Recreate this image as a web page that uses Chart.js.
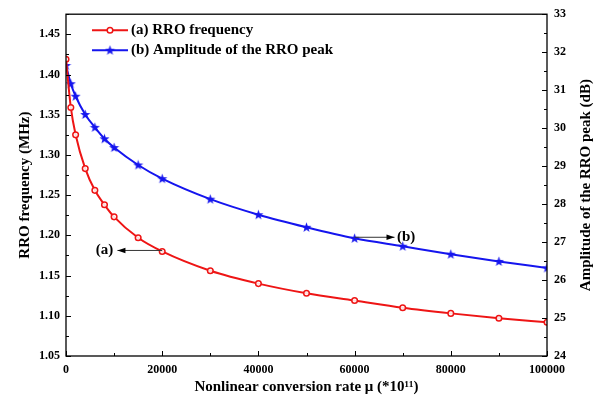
<!DOCTYPE html>
<html>
<head>
<meta charset="utf-8">
<script src="https://cdn.jsdelivr.net/npm/chart.js@4.4.0/dist/chart.umd.min.js"></script>
<style>
body{margin:0;background:#fff}
#wrap{width:600px;height:396px}
</style>
</head>
<body>
<div id="wrap"><canvas id="myChart" width="600" height="396"></canvas></div>
<script>
var mu=[0,1000,2000,4000,6000,8000,10000,15000,20000,30000,40000,50000,60000,70000,80000,90000,100000]
var rroFreq=[1.419,1.359,1.325,1.283,1.256,1.238,1.223,1.197,1.180,1.156,1.140,1.128,1.119,1.110,1.103,1.097,1.092]
var rroAmp=[31.65,31.17,30.84,30.36,30.02,29.72,29.49,29.03,28.67,28.13,27.72,27.39,27.10,26.89,26.68,26.49,26.32]
var seriesNames=["(a) RRO frequency","(b) Amplitude of the RRO peak"]
var rightTitle="Amplitude of the RRO peak (dB)"

var red="#ee1515", blue="#1515ee"
var serif='"Liberation Serif","Times New Roman",serif'
Chart.defaults.font.family=serif
Chart.defaults.font.weight='bold'
Chart.defaults.color='#000'

function starImage(color){
  var c=document.createElement('canvas')
  c.width=11; c.height=11
  var g=c.getContext('2d')
  g.fillStyle=color
  g.beginPath()
  for(var i=0;i<10;i++){
    var r=i%2?2.1:5.3
    var a=-Math.PI/2+i*Math.PI/5
    g.lineTo(5.5+r*Math.cos(a),5.8+r*Math.sin(a))
  }
  g.closePath()
  g.fill()
  return c
}
var star=starImage(blue)

function pts(ys){
  return mu.map(function(x,i){ return {x:x,y:ys[i]} })
}
function $each(obj,fn){ Object.keys(obj).forEach(function(k){ fn(k,obj[k]) }) }

// annotation arrows: from a data point to a tip x (data units), label next to it
var notes=[
  {ds:0,idx:8,tipX:10700,text:"(a)",textX:8000},
  {ds:1,idx:12,tipX:68300,text:"(b)",textX:70700}
]

var extras={
  id:'extras',
  afterDraw:function(chart){
    var ctx=chart.ctx, ca=chart.chartArea
    ctx.save()
    // frame
    ctx.strokeStyle='#000'
    ctx.lineWidth=1.3
    ctx.strokeRect(ca.left,ca.top,ca.right-ca.left,ca.bottom-ca.top)
    // inward ticks
    ctx.lineWidth=1
    $each(chart.scales,function(id,sc){
      sc.ticks.forEach(function(t){
        var len=t.label!==''?5:3
        var p=Math.round(sc.getPixelForValue(t.value))+0.5
        ctx.beginPath()
        if(sc.position==='bottom'){ ctx.moveTo(p,ca.bottom); ctx.lineTo(p,ca.bottom-len) }
        else if(sc.position==='left'){ ctx.moveTo(ca.left,p); ctx.lineTo(ca.left+len,p) }
        else { ctx.moveTo(ca.right,p); ctx.lineTo(ca.right-len,p) }
        ctx.stroke()
      })
    })
    // legend
    ctx.font='bold 15px '+serif
    ctx.textBaseline='middle'
    ctx.textAlign='left'
    chart.data.datasets.forEach(function(ds,i){
      var y=ca.top+16+i*20
      var x0=ca.left+26, x1=ca.left+62
      ctx.strokeStyle=ds.borderColor
      ctx.lineWidth=2
      ctx.beginPath(); ctx.moveTo(x0,y); ctx.lineTo(x1,y); ctx.stroke()
      var mx=(x0+x1)/2
      if(ds.pointStyle==='circle'){
        ctx.fillStyle='#fff'
        ctx.lineWidth=1.5
        ctx.beginPath(); ctx.arc(mx,y,2.8,0,Math.PI*2); ctx.fill(); ctx.stroke()
      } else {
        ctx.drawImage(ds.pointStyle,mx-5.5,y-5.5)
      }
      ctx.fillStyle='#000'
      ctx.fillText(ds.label,x1+3,y)
    })
    // arrows
    var xs=chart.scales.x
    notes.forEach(function(n){
      var ds=chart.data.datasets[n.ds]
      var ys=chart.scales[ds.yAxisID]
      var pt=ds.data[n.idx]
      var sx=xs.getPixelForValue(pt.x), sy=ys.getPixelForValue(pt.y)-1
      var tx=xs.getPixelForValue(n.tipX)
      var dir=tx<sx?-1:1
      ctx.strokeStyle='#333'
      ctx.lineWidth=1
      ctx.beginPath(); ctx.moveTo(sx,sy); ctx.lineTo(tx,sy); ctx.stroke()
      ctx.fillStyle='#000'
      ctx.beginPath()
      ctx.moveTo(tx,sy); ctx.lineTo(tx-dir*8,sy-2.8); ctx.lineTo(tx-dir*8,sy+2.8)
      ctx.closePath(); ctx.fill()
      ctx.textAlign='center'
      ctx.fillText(n.text,xs.getPixelForValue(n.textX),sy)
    })
    // right axis title, reading bottom to top like the left one
    ctx.translate(586,(ca.top+ca.bottom)/2)
    ctx.rotate(-Math.PI/2)
    ctx.textAlign='center'
    ctx.fillText(rightTitle,0,0)
    ctx.restore()
  }
}

var myChart=document.getElementById("myChart").getContext('2d')
var chart=new Chart(myChart,{
  type:'line',
  data:{
    datasets:[
      {
        label:seriesNames[0],
        data:pts(rroFreq),
        yAxisID:'y',
        borderColor:red,
        backgroundColor:'#fff',
        borderWidth:2,
        pointStyle:'circle',
        pointRadius:2.8,
        pointBorderWidth:1.5,
        pointBorderColor:red,
        pointBackgroundColor:'rgba(255,255,255,0.85)',
        cubicInterpolationMode:'monotone'
      },
      {
        label:seriesNames[1],
        data:pts(rroAmp),
        yAxisID:'y2',
        borderColor:blue,
        backgroundColor:blue,
        borderWidth:2,
        pointStyle:star,
        pointRadius:5,
        cubicInterpolationMode:'monotone'
      }
    ]
  },
  options:{
    responsive:false,
    animation:false,
    layout:{padding:{top:11,left:0,right:0,bottom:0}},
    plugins:{legend:{display:false},tooltip:{enabled:false}},
    scales:{
      x:{
        type:'linear',
        min:0,max:100000,
        grid:{display:false,drawTicks:false},
        border:{display:false},
        afterFit:function(s){ s.height=40 },
        ticks:{
          stepSize:10000,autoSkip:false,maxRotation:0,padding:7,
          font:{size:12,weight:'bold'},
          callback:function(v){ return v%20000===0?String(v):'' }
        },
        title:{display:true,text:'Nonlinear conversion rate \u03bc (*10\u00b9\u00b9)',font:{size:15,weight:'bold'},padding:{top:0,bottom:0}}
      },
      y:{
        position:'left',
        min:1.05,max:1.475,
        grid:{display:false,drawTicks:false},
        border:{display:false},
        afterFit:function(s){ s.width=66 },
        ticks:{
          stepSize:0.025,autoSkip:false,padding:6,
          font:{size:12,weight:'bold'},
          callback:function(v){ return Math.abs(v*20-Math.round(v*20))<1e-6?v.toFixed(2):'' }
        },
        title:{display:true,text:'RRO frequency (MHz)',font:{size:15,weight:'bold'},padding:{top:16,bottom:0}}
      },
      y2:{
        position:'right',
        min:24,max:33,
        grid:{display:false,drawTicks:false},
        border:{display:false},
        afterFit:function(s){ s.width=53 },
        ticks:{
          stepSize:0.5,autoSkip:false,padding:7,
          font:{size:12,weight:'bold'},
          callback:function(v){ return Math.abs(v-Math.round(v))<1e-6?String(Math.round(v)):'' }
        }
      }
    }
  },
  plugins:[extras]
})
</script>
</body>
</html>
